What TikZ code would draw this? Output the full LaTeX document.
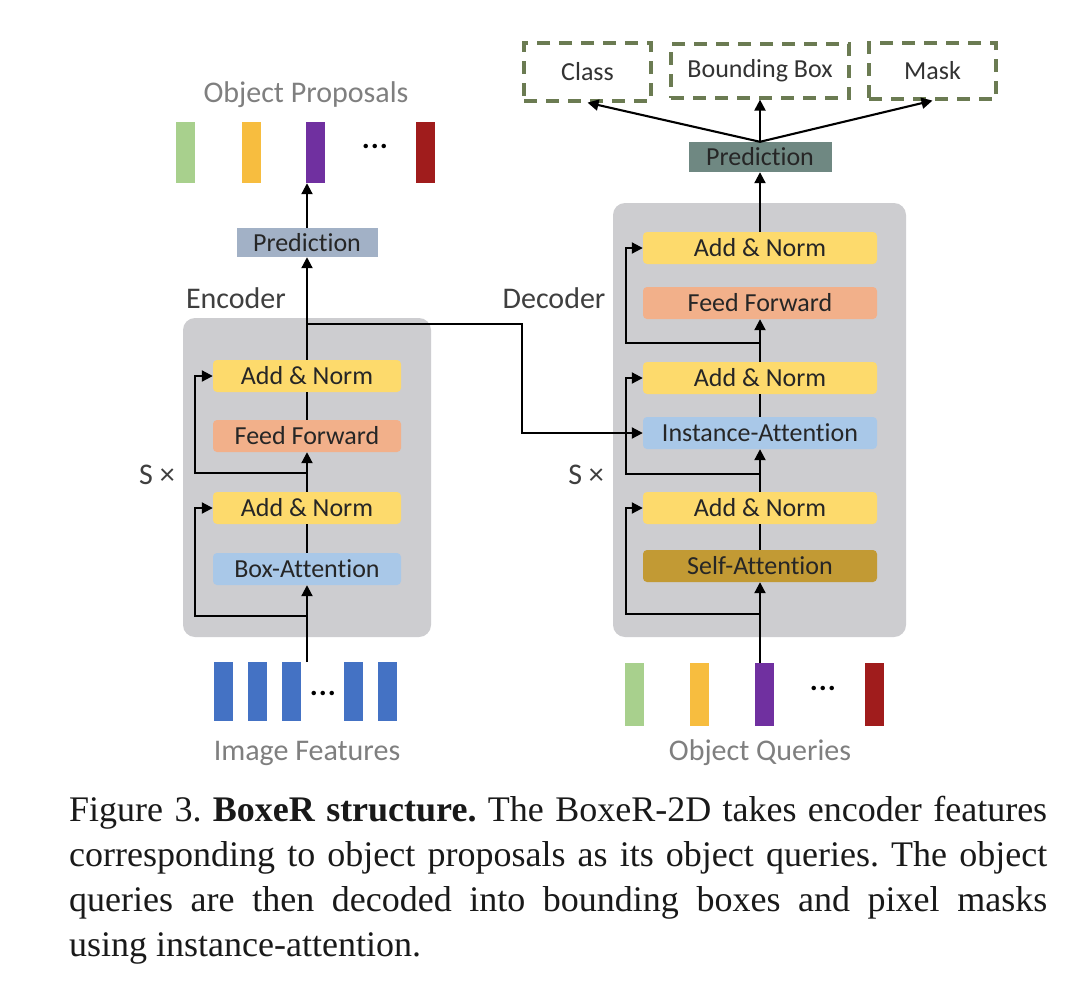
\documentclass[tikz,border=0pt]{standalone}
\usepackage{fontspec}
\setmainfont{Carlito}[Ligatures=NoCommon]
\newfontfamily\capfont{Liberation Serif}
\usetikzlibrary{arrows.meta}
\definecolor{cGray}{HTML}{CDCDD0}
\definecolor{cYel}{HTML}{FDDA6C}
\definecolor{cFF}{HTML}{F2B08A}
\definecolor{cBlue}{HTML}{A9C8E8}
\definecolor{cSelf}{HTML}{C29A34}
\definecolor{cPredE}{HTML}{A2B1C6}
\definecolor{cPredD}{HTML}{6F8882}
\definecolor{cDash}{HTML}{6B7B52}
\definecolor{bGreen}{HTML}{A8D08D}
\definecolor{bYel}{HTML}{F7BD3F}
\definecolor{bPurp}{HTML}{7030A0}
\definecolor{bRed}{HTML}{A01C1C}
\definecolor{bBlue}{HTML}{4472C4}
\definecolor{lblGray}{HTML}{7F7F7F}
\definecolor{lblDark}{HTML}{3F3F3F}
\frenchspacing
\begin{document}
\begin{tikzpicture}[x=1pt,y=-1pt,
  gbox/.style={fill=cGray, rounded corners=12pt, inner sep=0pt},
  blk/.style={rounded corners=4pt, minimum height=32pt, inner sep=0pt, text=black!85, font=\fontsize{26}{30}\selectfont},
  eblk/.style={blk, minimum width=188pt},
  dblk/.style={blk, minimum width=234pt},
  pred/.style={inner sep=0pt, text=black!85, font=\fontsize{26}{30}\selectfont},
  outbox/.style={draw=cDash, dash pattern=on 13pt off 9pt, line width=3.2pt, inner sep=0pt, text=black!80, font=\fontsize{26}{30}\selectfont},
  bar/.style={inner sep=0pt, minimum width=19pt},
  lbl/.style={text=lblGray, font=\fontsize{30}{34}\selectfont},
  dlbl/.style={text=lblDark, font=\fontsize{30}{34}\selectfont},
  dotlbl/.style={font=\fontsize{30}{34}\selectfont\bfseries, text=black},
  ar/.style={-{Triangle[length=11pt,width=11pt]}, line width=2.1pt},
  ln/.style={line width=2.1pt},
  captext/.style={anchor=base west, inner sep=0pt, text=black!90, font=\capfont\fontsize{36}{45}\selectfont}
]
\useasboundingbox[fill=white] (0,0) rectangle (1080,988);

% ---------- Encoder ----------
\node[gbox, minimum width=248pt, minimum height=319pt] (encbox) at (307,477.5) {};
\node[eblk, fill=cYel] (eAN2) at (307,376) {Add \& Norm};
\node[eblk, fill=cFF] (eFF) at (307,436) {Feed Forward};
\node[eblk, fill=cYel] (eAN1) at (307,508) {Add \& Norm};
\node[eblk, fill=cBlue] (eBA) at (307,569) {Box-Attention};
\node[pred, fill=cPredE, minimum width=141pt, minimum height=29pt] (ePred) at (307,242.5) {Prediction};

\node[dlbl] (encLbl) at (236,298) {Encoder};
\node[dlbl] (encS) at (157,475) {S ×};

% proposals
\node[lbl] (opLbl) at (306,95) {Object Proposals};
\node[bar, fill=bGreen, minimum height=61pt] (p1) at (185.5,152.5) {};
\node[bar, fill=bYel, minimum height=61pt] (p2) at (251.5,152.5) {};
\node[bar, fill=bPurp, minimum height=61pt] (p3) at (315.5,152.5) {};
\node[dotlbl] (pdots) at (375,146) {.\kern1pt.\kern1pt.};
\node[bar, fill=bRed, minimum height=61pt] (p4) at (425.5,152.5) {};

% image features
\node[bar, fill=bBlue, minimum height=59pt] (f1) at (223.5,691.5) {};
\node[bar, fill=bBlue, minimum height=59pt] (f2) at (257.5,691.5) {};
\node[bar, fill=bBlue, minimum height=59pt] (f3) at (291.5,691.5) {};
\node[dotlbl] (fdots) at (323,693) {.\kern1pt.\kern1pt.};
\node[bar, fill=bBlue, minimum height=59pt] (f4) at (353.5,691.5) {};
\node[bar, fill=bBlue, minimum height=59pt] (f5) at (387,691.5) {};
\node[lbl] (ifLbl) at (307,753) {Image Features};

% ---------- Decoder ----------
\node[gbox, minimum width=293pt, minimum height=434pt] (decbox) at (759.5,420) {};
\node[dblk, fill=cYel] (dAN3) at (760,248) {Add \& Norm};
\node[dblk, fill=cFF] (dFF) at (760,303) {Feed Forward};
\node[dblk, fill=cYel] (dAN2) at (760,378) {Add \& Norm};
\node[dblk, fill=cBlue] (dIA) at (760,433) {Instance-Attention};
\node[dblk, fill=cYel] (dAN1) at (760,508) {Add \& Norm};
\node[dblk, fill=cSelf] (dSA) at (760,566) {Self-Attention};
\node[pred, fill=cPredD, minimum width=143pt, minimum height=30pt] (dPred) at (760,157) {Prediction};

\node[dlbl] (decLbl) at (554,298) {Decoder};
\node[dlbl] (decS) at (586,475) {S ×};

\node[outbox, minimum width=127pt, minimum height=58pt] (cls) at (587.5,72) {Class};
\node[outbox, minimum width=178pt, minimum height=54pt] (bb) at (760,71) {Bounding Box};
\node[outbox, minimum width=127pt, minimum height=56pt] (mask) at (932.5,71) {Mask};

% queries
\node[bar, fill=bGreen, minimum height=63pt] (q1) at (634.5,694.5) {};
\node[bar, fill=bYel, minimum height=63pt] (q2) at (699,694.5) {};
\node[bar, fill=bPurp, minimum height=63pt] (q3) at (764.5,694.5) {};
\node[dotlbl] (qdots) at (823,688) {.\kern1pt.\kern1pt.};
\node[bar, fill=bRed, minimum height=63pt] (q4) at (874,694.5) {};
\node[lbl] (oqLbl) at (760,753) {Object Queries};

% ---------- Encoder connectors ----------
\coordinate (eIn) at (307,662);
\coordinate (eR1) at (307,616);
\coordinate (eR2) at (307,473);
\coordinate (eRx) at (195,0);
\coordinate (br) at (307,324);
\coordinate (brx) at (522,324);
\draw[ar] (eIn) -- (eBA.south);
\draw[ln] (eBA.north) -- (eAN1.south);
\draw[ar] (eAN1.north) -- (eFF.south);
\draw[ln] (eFF.north) -- (eAN2.south);
\draw[ar] (eAN2.north) -- (ePred.south);
\draw[ar] (ePred.north) -- (ePred.north |- p3.south);
\draw[ar] (eR1) -- (eR1 -| eRx) |- (eAN1.west);
\draw[ar] (eR2) -- (eR2 -| eRx) |- (eAN2.west);
\draw[ar] (br) -- (brx) |- (dIA.west);

% ---------- Decoder connectors ----------
\coordinate (dIn) at (760,663);
\coordinate (dR1) at (760,614);
\coordinate (dR2) at (760,474);
\coordinate (dR3) at (760,343);
\coordinate (dRx) at (626,0);
\draw[ar] (dIn) -- (dSA.south);
\draw[ln] (dSA.north) -- (dAN1.south);
\draw[ar] (dAN1.north) -- (dIA.south);
\draw[ln] (dIA.north) -- (dAN2.south);
\draw[ar] (dAN2.north) -- (dFF.south);
\draw[ar] (dAN3.north) -- (dPred.south);
\draw[ar] (dR1) -- (dR1 -| dRx) |- (dAN1.west);
\draw[ar] (dR2) -- (dR2 -| dRx) |- (dAN2.west);
\draw[ar] (dR3) -- (dR3 -| dRx) |- (dAN3.west);
\draw[ar] (dPred.north) -- (cls.south);
\draw[ar] (dPred.north) -- (bb.south);
\draw[ar] (dPred.north) -- (mask.south);

% ---------- Caption ----------
\node[captext] (cap1) at (69,821) {\hbox to 978pt{Figure 3. \textbf{BoxeR structure.} The BoxeR-2D takes encoder features}};
\node[captext] (cap2) at (69,866) {\hbox to 978pt{corresponding to object proposals as its object queries. The object}};
\node[captext] (cap3) at (69,911) {\hbox to 978pt{queries are then decoded into bounding boxes and pixel masks}};
\node[captext] (cap4) at (69,956) {using instance-attention.};
\end{tikzpicture}
\end{document}
